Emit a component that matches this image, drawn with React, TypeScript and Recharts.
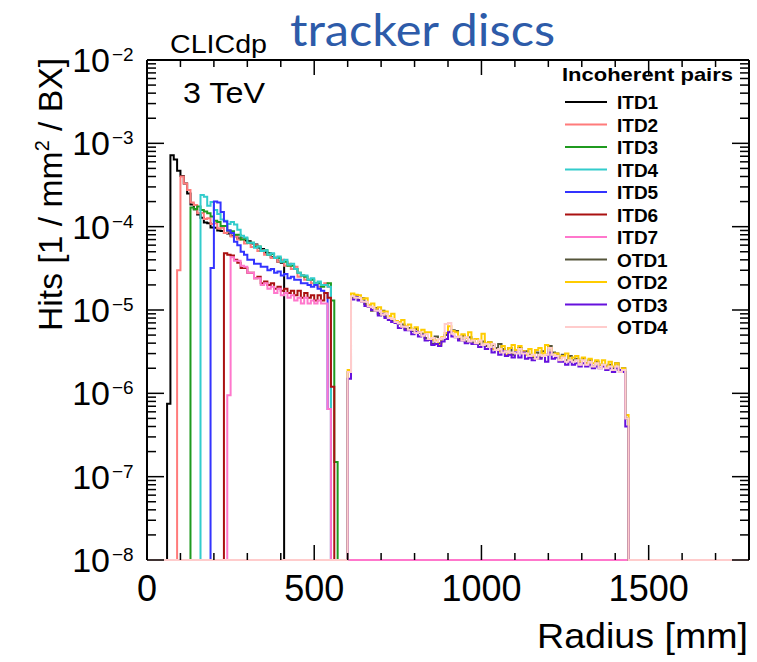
import { LineChart, Line, XAxis, YAxis } from "recharts"

const FONT = "'Liberation Sans', Arial, Helvetica, sans-serif"

// histogram binning [mm]
const binWidth = 10
const radiusMax = 1800
// empty bins sit on the frame bottom, as ROOT draws them on a log axis
const yMin = 1e-8
const yMax = 1e-2

// hits / mm^2 / BX in units of 1e-6, one value per 10 mm bin from the start radius
const itd1Start = 60
const itd1 = [
  0.75, 720, 640, 470, 405, 330, 250, 185, 162, 140,
  128, 112, 110, 98, 97, 90, 89, 84, 83, 78,
  77, 72, 72, 68, 67, 63, 61, 56, 54, 49,
  48, 43, 42, 38, 37,
]
const itd2Start = 90
const itd2 = [
  30, 400, 330, 275, 195, 182, 145, 146, 124, 126,
  108, 110, 95, 97, 84, 88, 76, 77, 70, 71,
  63, 64, 57, 60, 51, 52, 46, 47, 42, 43,
  38, 40, 34, 36, 31, 33, 25, 26, 23, 23,
  21, 21, 19, 20, 21, 19,
]
const itd3Start = 130
const itd3 = [
  170, 162, 175, 158, 152, 145, 132, 118, 114, 102,
  102, 90, 88, 80, 80, 70, 72, 64, 64, 58,
  58, 51, 52, 46, 47, 42, 42, 38, 38, 34,
  34, 31, 28, 26, 25, 23, 23, 21, 21, 19,
  20, 21, 13, 0.15,
]
const itd4Start = 160
const itd4 = [
  240, 228, 178, 198, 158, 142, 122, 118, 108, 114,
  106, 92, 78, 74, 64, 64, 56, 58, 51, 52,
  46, 48, 42, 44, 38, 40, 35, 36, 31, 28,
  26, 26, 23, 24, 21, 22, 20, 20, 19,
]
const itd5Start = 190
const itd5 = [
  32, 200, 195, 150, 115, 90, 84, 66, 60, 50,
  46, 40, 40, 36, 36, 33, 33, 30, 31, 28,
  29, 26, 27, 24, 25, 23, 23, 21, 21, 20,
  19, 20, 18, 17, 16, 0.65,
]
const itd6Start = 230
const itd6 = [
  48, 46, 45, 40, 37, 32, 32, 28, 28, 24,
  25, 21, 22, 20, 21, 18, 19, 17, 18, 16,
  17, 15, 17, 14, 16, 14, 15, 13, 15, 13,
  16, 14, 1.2,
]
const itd7Start = 240
const itd7 = [
  0.95, 43, 39, 39, 34, 33, 28, 28, 24, 24,
  20, 21, 18, 19, 16, 18, 15, 16, 14, 15,
  13, 14, 12, 14, 12, 13, 12, 13, 12, 12,
  0.65,
]
const otdStart = 600
const otd1 = [
  1.8, 14.0, 15.0, 13.2, 13.8, 11.8, 11.2, 9.8, 10.6, 9.0,
  9.8, 8.4, 8.2, 7.6, 7.3, 6.8, 6.7, 5.9, 6.1, 5.6,
  5.9, 5.3, 5.2, 4.6, 4.4, 3.9, 4.8, 4.0, 4.6, 5.0,
  5.5, 5.7, 5.6, 4.5, 4.9, 4.2, 4.7, 4.1, 4.5, 3.9,
  4.2, 3.7, 4.1, 3.8, 3.5, 3.9, 3.4, 3.2, 3.5, 2.9,
  3.3, 3.5, 3.2, 3.2, 2.9, 2.7, 3.1, 2.7, 3.2, 2.9,
  3.7, 3.1, 3.0, 2.7, 2.9, 2.5, 2.8, 2.5, 2.6, 2.4,
  2.6, 2.3, 2.5, 2.1, 2.4, 2.2, 2.2, 2.1, 2.2, 2.0,
  2.3, 1.9, 2.0, 0.5,
]
const otd2 = [
  1.9, 15.8, 15.2, 15.0, 13.6, 13.8, 11.6, 12.0, 10.2, 10.8,
  9.6, 9.6, 8.5, 9.0, 7.4, 7.2, 7.6, 6.4, 6.7, 5.8,
  6.2, 5.4, 5.8, 5.4, 5.4, 4.4, 4.3, 3.8, 4.7, 5.3,
  6.4, 5.6, 5.4, 4.8, 5.1, 4.6, 5.4, 4.4, 4.5, 4.2,
  5.2, 4.0, 4.1, 3.4, 3.3, 3.2, 3.7, 2.9, 3.5, 3.8,
  3.3, 3.7, 3.2, 2.9, 3.4, 2.8, 3.3, 3.5, 3.0, 3.8,
  3.5, 2.9, 3.0, 2.7, 2.8, 3.0, 2.5, 2.7, 2.8, 2.4,
  2.7, 2.3, 2.6, 2.3, 2.5, 2.2, 2.5, 2.1, 2.4, 2.1,
  2.3, 1.9, 2.0, 0.55,
]
const otd3 = [
  1.5, 13.4, 14.2, 13.0, 12.6, 11.2, 10.9, 10.0, 9.8, 8.6,
  8.9, 8.0, 7.6, 7.2, 7.0, 6.1, 6.3, 5.7, 5.7, 5.1,
  5.5, 4.8, 5.0, 4.3, 4.4, 3.8, 3.9, 3.7, 4.2, 4.5,
  5.4, 4.8, 4.7, 4.3, 4.3, 4.0, 4.1, 3.9, 3.9, 3.6,
  3.8, 3.4, 3.6, 3.1, 3.3, 2.9, 3.2, 2.8, 2.9, 2.7,
  3.1, 2.7, 3.1, 2.6, 2.7, 2.5, 2.7, 2.6, 2.8, 2.4,
  3.1, 2.6, 2.7, 2.4, 2.4, 2.2, 2.4, 2.2, 2.3, 2.1,
  2.3, 2.1, 2.2, 2.0, 2.1, 2.0, 2.1, 1.9, 2.0, 1.8,
  2.0, 1.9, 1.8, 0.4,
]
const otd4 = [
  1.8, 14.6, 14.0, 14.0, 12.6, 12.6, 11.0, 10.8, 9.8, 9.8,
  8.8, 9.1, 8.0, 7.8, 7.2, 6.9, 6.3, 6.3, 5.8, 5.8,
  5.3, 5.4, 4.9, 5.1, 4.5, 4.6, 4.2, 4.5, 4.6, 6.8,
  7.0, 5.2, 4.7, 4.8, 4.3, 4.7, 4.2, 4.3, 4.0, 4.3,
  3.8, 3.9, 3.6, 3.9, 3.3, 3.4, 3.1, 3.2, 3.1, 3.1,
  3.0, 3.4, 3.0, 3.0, 2.8, 2.9, 2.6, 2.9, 2.8, 2.9,
  3.5, 2.9, 2.8, 2.5, 2.7, 2.4, 2.5, 2.4, 2.5, 2.2,
  2.5, 2.2, 2.4, 2.1, 2.3, 2.0, 2.2, 2.0, 2.1, 1.9,
  2.1, 1.8, 1.9, 0.5,
]

const seriesNames = ["ITD1", "ITD2", "ITD3", "ITD4", "ITD5", "ITD6", "ITD7", "OTD1", "OTD2", "OTD3", "OTD4"]
const seriesColors = [
  "#000000", "#ff7b7b", "#1f9a1f", "#33cccc", "#3333ff", "#aa1111",
  "#ff77cc", "#55553a", "#ffcc00", "#6611dd", "#ffcccc",
]
const seriesStarts = [itd1Start, itd2Start, itd3Start, itd4Start, itd5Start, itd6Start, itd7Start, otdStart, otdStart, otdStart, otdStart]
const seriesValues = [itd1, itd2, itd3, itd4, itd5, itd6, itd7, otd1, otd2, otd3, otd4]

const xLabels = [0, 500, 1000, 1500]
const yDecades = [-8, -7, -6, -5, -4, -3, -2]

const xTicks: number[] = []
for (let r = 0; r <= radiusMax; r += 100) xTicks.push(r)
const yTicks: number[] = []
yDecades.forEach((d) => {
  const top = d === -2 ? 1 : 9
  for (let k = 1; k <= top; k++) yTicks.push(k * Math.pow(10, d))
})

const rows: Record<string, number>[] = []
for (let r = 0; r <= radiusMax; r += binWidth) {
  const row: Record<string, number> = { r }
  seriesNames.forEach((name, i) => {
    const idx = Math.round((r - seriesStarts[i]) / binWidth)
    const v = idx >= 0 ? seriesValues[i][idx] : undefined
    row[name] = v !== undefined ? v * 1e-6 : yMin
  })
  rows.push(row)
}

function isDecade(v: number) {
  const l = Math.log10(v)
  return Math.abs(l - Math.round(l)) < 1e-6
}

function LeftTick(props: any) {
  const { x, y, payload } = props
  const v = payload.value
  const major = isDecade(v)
  const exp = Math.round(Math.log10(v))
  return (
    <g>
      <line x1={x} x2={x + (major ? 17 : 9)} y1={y} y2={y} stroke="#000" strokeWidth={1.5} />
      {major && (
        <text x={x - 37} y={y + 12} textAnchor="end" fontSize={34} fontFamily={FONT} fill="#000">
          10
        </text>
      )}
      {major && (
        <text x={x - 35} y={y + 1} fontSize={19} fontFamily={FONT} fill="#000">
          {`\u2212${-exp}`}
        </text>
      )}
    </g>
  )
}

function RightTick(props: any) {
  const { x, y, payload } = props
  const major = isDecade(payload.value)
  return <line x1={x} x2={x - (major ? 17 : 9)} y1={y} y2={y} stroke="#000" strokeWidth={1.5} />
}

function TopTick(props: any) {
  const { x, y, payload } = props
  const major = payload.value % 500 === 0
  return <line x1={x} x2={x} y1={y} y2={y + (major ? 15 : 7)} stroke="#000" strokeWidth={1.5} />
}

function BottomTick(props: any) {
  const { x, y, payload } = props
  const major = payload.value % 500 === 0
  return (
    <g>
      <line x1={x} x2={x} y1={y} y2={y - (major ? 15 : 7)} stroke="#000" strokeWidth={1.5} />
      {xLabels.includes(payload.value) && (
        <text x={x} y={y + 41} textAnchor="middle" fontSize={36} fontFamily={FONT} fill="#000">
          {payload.value}
        </text>
      )}
    </g>
  )
}

export default function App() {
  return (
    <div style={{ position: "absolute", left: 0, top: 0, width: 757, height: 662, background: "#fff" }}>
      <LineChart width={757} height={662} data={rows} margin={{ top: 0, right: 0, bottom: 0, left: 0 }}>
        {/* the bottom edge is drawn by the empty bins of the histograms */}
        <XAxis
          dataKey="r"
          type="number"
          domain={[0, radiusMax]}
          ticks={xTicks}
          interval={0}
          height={102}
          tickSize={0}
          tickMargin={0}
          tickLine={false}
          axisLine={false}
          tick={<BottomTick />}
        />
        <XAxis
          xAxisId="top"
          orientation="top"
          dataKey="r"
          type="number"
          domain={[0, radiusMax]}
          allowDataOverflow
          ticks={xTicks}
          interval={0}
          height={60}
          tickSize={0}
          tickMargin={0}
          tickLine={false}
          axisLine={{ stroke: "#000", strokeWidth: 2 }}
          tick={<TopTick />}
        />
        <YAxis
          type="number"
          scale="log"
          domain={[yMin, yMax]}
          ticks={yTicks}
          interval={0}
          width={147}
          tickSize={0}
          tickMargin={0}
          tickLine={false}
          axisLine={{ stroke: "#000", strokeWidth: 2 }}
          tick={<LeftTick />}
        />
        <YAxis
          yAxisId="right"
          orientation="right"
          type="number"
          scale="log"
          domain={[yMin, yMax]}
          allowDataOverflow
          ticks={yTicks}
          interval={0}
          width={8}
          tickSize={0}
          tickMargin={0}
          tickLine={false}
          axisLine={{ stroke: "#000", strokeWidth: 2 }}
          tick={<RightTick />}
        />
        {seriesNames.map((name, i) => (
          <Line
            key={name}
            dataKey={name}
            type="stepAfter"
            stroke={seriesColors[i]}
            strokeWidth={2}
            dot={false}
            activeDot={false}
            isAnimationActive={false}
          />
        ))}
      </LineChart>
      <svg
        width={757}
        height={662}
        style={{ position: "absolute", left: 0, top: 0, pointerEvents: "none" }}
      >
        <text x={290} y={46} fontSize={44} fontFamily="Lato, 'Open Sans', sans-serif" fill="#2d5ba9" textLength={265} lengthAdjust="spacingAndGlyphs">
          tracker discs
        </text>
        <text x={170} y={53} fontSize={26} fontFamily={FONT} fill="#000" textLength={97} lengthAdjust="spacingAndGlyphs">
          CLICdp
        </text>
        <text x={183} y={103} fontSize={29} fontFamily={FONT} fill="#000" textLength={82} lengthAdjust="spacingAndGlyphs">
          3 TeV
        </text>
        <text transform="translate(62, 331) rotate(-90)" fontSize={34} fontFamily={FONT} fill="#000" textLength={273} lengthAdjust="spacingAndGlyphs">
          <tspan>Hits [1 / mm</tspan>
          <tspan dy={-13} fontSize={20}>2</tspan>
          <tspan dy={13}> / BX]</tspan>
        </text>
        <text x={748} y={648} textAnchor="end" fontSize={35} fontFamily={FONT} fill="#000" textLength={211} lengthAdjust="spacingAndGlyphs">
          Radius [mm]
        </text>
        <text x={562} y={81} fontSize={19} fontWeight="bold" fontFamily={FONT} fill="#000" textLength={171} lengthAdjust="spacingAndGlyphs">
          Incoherent pairs
        </text>
        {seriesNames.map((name, i) => (
          <g key={name}>
            <line x1={565} x2={607} y1={102 + 22.5 * i} y2={102 + 22.5 * i} stroke={seriesColors[i]} strokeWidth={2} />
            <text x={617} y={109 + 22.5 * i} fontSize={19} fontWeight="bold" fontFamily={FONT} fill="#000">
              {name}
            </text>
          </g>
        ))}
      </svg>
    </div>
  )
}
